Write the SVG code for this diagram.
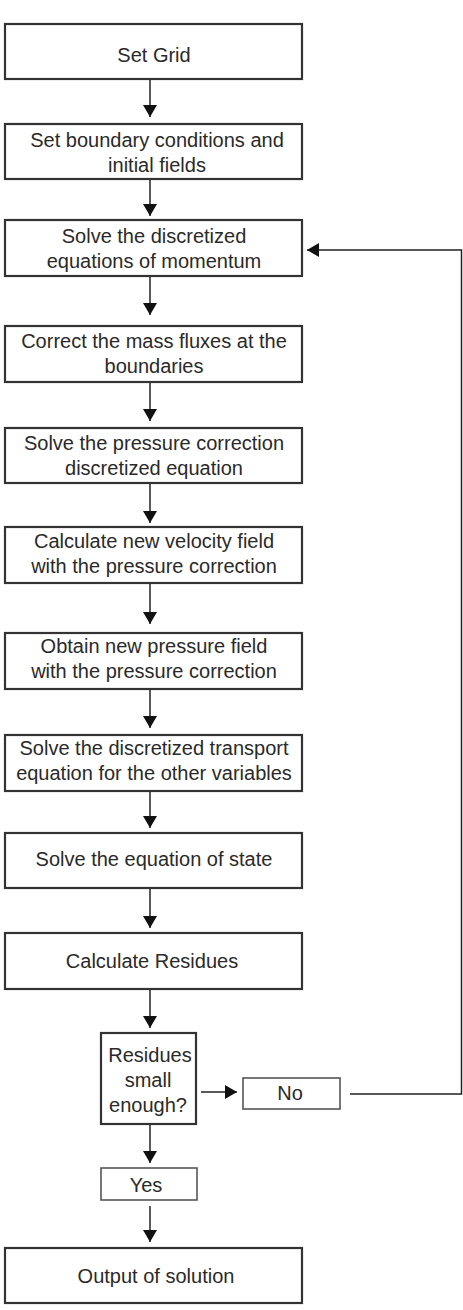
<svg xmlns="http://www.w3.org/2000/svg" width="463" height="1310" viewBox="0 0 463 1310">
<style>
.box{fill:#fff;stroke:#333;stroke-width:2.2}
.sbox{fill:#fff;stroke:#555;stroke-width:1.6}
.t{font-family:"Liberation Sans",Arial,sans-serif;font-size:20px;fill:#2a2a2a;text-anchor:middle}
.c{fill:none;stroke:#222;stroke-width:1.5}
</style>
<defs>
<marker id="ah" viewBox="0 0 12 14" refX="12" refY="7" markerWidth="12" markerHeight="14" markerUnits="userSpaceOnUse" orient="auto">
<path d="M0,0 L12,7 L0,14 z" fill="#111"/>
</marker>
</defs>
<rect width="463" height="1310" fill="#fff"/>
<g id="n1"><rect class="box" x="5" y="24" width="297" height="55"/><text class="t" x="154" y="62">Set Grid</text></g>
<g id="n2"><rect class="box" x="5" y="124" width="297" height="55"/><text class="t" x="157" y="147">Set boundary conditions and</text><text class="t" x="157" y="172">initial fields</text></g>
<g id="n3"><rect class="box" x="5" y="220" width="297" height="56"/><text class="t" x="154" y="243">Solve the discretized</text><text class="t" x="154" y="268">equations of momentum</text></g>
<g id="n4"><rect class="box" x="5" y="326" width="297" height="56"/><text class="t" x="154" y="348">Correct the mass fluxes at the</text><text class="t" x="154" y="373">boundaries</text></g>
<g id="n5"><rect class="box" x="5" y="428" width="297" height="55"/><text class="t" x="154" y="450">Solve the pressure correction</text><text class="t" x="154" y="475">discretized equation</text></g>
<g id="n6"><rect class="box" x="5" y="527" width="297" height="56"/><text class="t" x="154" y="548">Calculate new velocity field</text><text class="t" x="154" y="573">with the pressure correction</text></g>
<g id="n7"><rect class="box" x="5" y="633" width="297" height="56"/><text class="t" x="154" y="653">Obtain new pressure field</text><text class="t" x="154" y="678">with the pressure correction</text></g>
<g id="n8"><rect class="box" x="5" y="735" width="297" height="56"/><text class="t" x="154" y="755">Solve the discretized transport</text><text class="t" x="154" y="780">equation for the other variables</text></g>
<g id="n9"><rect class="box" x="5" y="833" width="297" height="55"/><text class="t" x="154" y="866">Solve the equation of state</text></g>
<g id="n10"><rect class="box" x="5" y="933" width="297" height="56"/><text class="t" x="152" y="968">Calculate Residues</text></g>
<g id="n11"><rect class="box" x="101" y="1033" width="95" height="91"/><text class="t" x="150" y="1062">Residues</text><text class="t" x="148" y="1087">small</text><text class="t" x="148" y="1112">enough?</text></g>
<g id="n12"><rect class="sbox" x="243" y="1078" width="97" height="31"/><text class="t" x="290" y="1100">No</text></g>
<g id="n13"><rect class="sbox" x="101" y="1168" width="96" height="32"/><text class="t" x="146" y="1192">Yes</text></g>
<g id="n14"><rect class="box" x="5" y="1248" width="297" height="55"/><text class="t" x="156" y="1283">Output of solution</text></g>
<g id="connectors">
<line class="c" x1="150" y1="80" x2="150" y2="117" marker-end="url(#ah)"/>
<line class="c" x1="150" y1="180" x2="150" y2="216" marker-end="url(#ah)"/>
<line class="c" x1="150" y1="277" x2="150" y2="315" marker-end="url(#ah)"/>
<line class="c" x1="150" y1="383" x2="150" y2="421" marker-end="url(#ah)"/>
<line class="c" x1="150" y1="484" x2="150" y2="523" marker-end="url(#ah)"/>
<line class="c" x1="150" y1="584" x2="150" y2="624" marker-end="url(#ah)"/>
<line class="c" x1="150" y1="690" x2="150" y2="728" marker-end="url(#ah)"/>
<line class="c" x1="150" y1="792" x2="150" y2="828" marker-end="url(#ah)"/>
<line class="c" x1="150" y1="889" x2="150" y2="928" marker-end="url(#ah)"/>
<line class="c" x1="150" y1="990" x2="150" y2="1028" marker-end="url(#ah)"/>
<line class="c" x1="150" y1="1125" x2="150" y2="1163" marker-end="url(#ah)"/>
<line class="c" x1="150" y1="1206" x2="150" y2="1242" marker-end="url(#ah)"/>
<line class="c" x1="201" y1="1092" x2="237" y2="1092" marker-end="url(#ah)"/>
<polyline class="c" points="350,1094 461.5,1094 461.5,250 307,250" marker-end="url(#ah)"/>
</g>
</svg>
